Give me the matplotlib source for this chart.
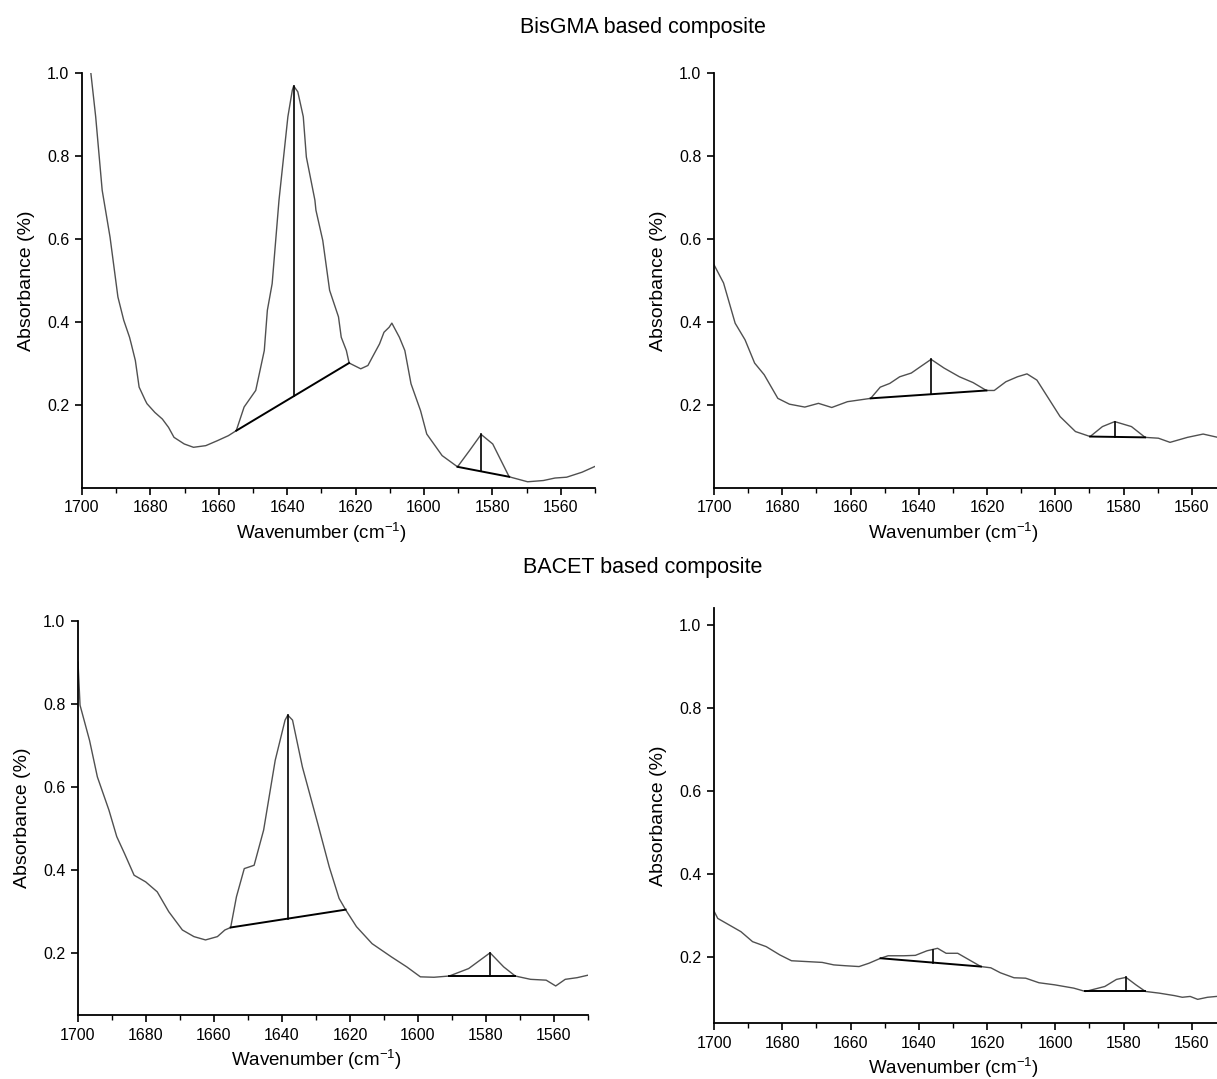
import numpy as np
import matplotlib
matplotlib.use("Agg")
import matplotlib.pyplot as plt
from matplotlib.ticker import MultipleLocator

plt.rcParams["font.family"] = ["Liberation Sans", "DejaVu Sans"]
plt.rcParams["mathtext.fontset"] = "custom"
plt.rcParams["mathtext.rm"] = "Liberation Sans"
plt.rcParams["mathtext.it"] = "Liberation Sans:italic"

# ---- BisGMA, before cure (top left) ----
wn_a = [1698.0, 1697.5, 1696.0, 1694.1, 1691.8, 1689.5, 1687.8, 1686.1, 1685.6, 1684.4,
        1683.3, 1681.5, 1681.0, 1678.7, 1676.5, 1674.7, 1673.1, 1670.1, 1667.4, 1663.8,
        1660.4, 1657.2, 1654.9, 1652.6, 1649.2, 1646.7, 1645.8, 1644.4, 1642.4, 1639.8,
        1638.5, 1638.1, 1636.9, 1635.3, 1634.4, 1631.9, 1631.6, 1629.6, 1627.6, 1625.0,
        1624.2, 1622.7, 1621.9, 1618.5, 1616.4, 1615.1, 1613.0, 1611.7, 1610.2, 1609.4,
        1607.2, 1605.6, 1603.8, 1601.0, 1599.2, 1594.7, 1590.2, 1586.7, 1583.3, 1579.9,
        1575.1, 1569.7, 1565.1, 1561.7, 1558.3, 1553.8, 1550.0]
ab_a = [1.030, 1.006, 0.894, 0.717, 0.604, 0.460, 0.404, 0.363, 0.347, 0.307,
        0.243, 0.211, 0.203, 0.182, 0.166, 0.146, 0.122, 0.106, 0.098, 0.102,
        0.114, 0.126, 0.138, 0.195, 0.235, 0.331, 0.428, 0.492, 0.693, 0.894,
        0.958, 0.968, 0.954, 0.894, 0.797, 0.693, 0.669, 0.596, 0.476, 0.412,
        0.363, 0.331, 0.301, 0.287, 0.295, 0.315, 0.347, 0.375, 0.387, 0.397,
        0.363, 0.331, 0.251, 0.186, 0.130, 0.078, 0.051, 0.090, 0.129, 0.106,
        0.027, 0.015, 0.018, 0.024, 0.026, 0.038, 0.052]
base_a = [(1654.9, 0.138, 1621.9, 0.301, 1638.1, 0.968),
          (1590.2, 0.051, 1575.1, 0.027, 1583.3, 0.129)]

# ---- BisGMA, after cure (top right) ----
wn_b = [1700.0, 1697.2, 1693.8, 1690.9, 1688.1, 1685.3, 1681.3, 1677.9, 1673.4, 1669.4,
        1665.5, 1660.9, 1657.5, 1654.1, 1651.3, 1648.5, 1645.6, 1642.2, 1639.4, 1636.4,
        1632.6, 1628.1, 1624.1, 1620.2, 1617.9, 1614.5, 1611.1, 1608.3, 1605.4, 1602.0,
        1598.6, 1594.1, 1589.8, 1586.2, 1582.6, 1577.7, 1573.7, 1569.8, 1566.4, 1561.3,
        1556.7, 1552.4, 1550.0]
ab_b = [0.538, 0.494, 0.397, 0.357, 0.301, 0.273, 0.216, 0.202, 0.195, 0.204,
        0.194, 0.208, 0.212, 0.216, 0.243, 0.252, 0.268, 0.277, 0.293, 0.310,
        0.289, 0.268, 0.254, 0.235, 0.235, 0.256, 0.268, 0.275, 0.260, 0.216,
        0.172, 0.136, 0.124, 0.148, 0.160, 0.148, 0.122, 0.120, 0.110, 0.122,
        0.130, 0.122, 0.118]
base_b = [(1654.1, 0.216, 1620.2, 0.235, 1636.4, 0.310),
          (1589.8, 0.124, 1573.7, 0.122, 1582.6, 0.160)]

# ---- BACET, before cure (bottom left) ----
wn_c = [1700.0, 1699.4, 1696.6, 1694.3, 1690.9, 1688.6, 1686.3, 1683.5, 1680.1, 1676.7,
        1673.3, 1669.3, 1665.9, 1662.5, 1659.0, 1656.8, 1655.1, 1653.4, 1651.1, 1648.2,
        1645.4, 1642.0, 1639.1, 1638.3, 1636.9, 1634.0, 1629.5, 1626.1, 1623.2, 1621.3,
        1618.1, 1613.5, 1607.8, 1603.3, 1599.3, 1595.3, 1590.8, 1585.1, 1578.8, 1574.8,
        1571.4, 1566.9, 1562.3, 1559.5, 1556.7, 1553.2, 1550.0]
ab_c = [0.901, 0.797, 0.712, 0.624, 0.544, 0.480, 0.439, 0.387, 0.371, 0.347,
        0.299, 0.255, 0.239, 0.231, 0.239, 0.255, 0.261, 0.335, 0.403, 0.411,
        0.496, 0.664, 0.761, 0.773, 0.761, 0.648, 0.512, 0.407, 0.331, 0.304,
        0.263, 0.222, 0.190, 0.166, 0.142, 0.141, 0.144, 0.162, 0.200, 0.166,
        0.144, 0.136, 0.134, 0.120, 0.136, 0.140, 0.146]
base_c = [(1655.1, 0.261, 1621.3, 0.304, 1638.3, 0.773),
          (1590.8, 0.144, 1571.4, 0.144, 1578.8, 0.200)]

# ---- BACET, after cure (bottom right) ----
wn_d = [1700.4, 1698.9, 1695.5, 1692.1, 1688.7, 1684.7, 1680.7, 1677.3, 1672.8, 1668.3,
        1664.9, 1661.5, 1657.5, 1654.6, 1651.2, 1649.0, 1644.4, 1641.0, 1637.6, 1634.5,
        1632.0, 1628.6, 1625.2, 1621.8, 1618.9, 1616.1, 1612.1, 1608.7, 1604.8, 1600.2,
        1594.6, 1591.2, 1585.5, 1582.1, 1579.3, 1576.4, 1573.6, 1569.6, 1565.1, 1562.8,
        1560.5, 1558.3, 1555.4, 1552.8, 1550.0]
ab_d = [0.316, 0.292, 0.276, 0.260, 0.236, 0.224, 0.204, 0.190, 0.188, 0.186,
        0.180, 0.178, 0.176, 0.184, 0.196, 0.202, 0.202, 0.203, 0.214, 0.220,
        0.208, 0.208, 0.192, 0.176, 0.173, 0.161, 0.149, 0.148, 0.137, 0.132,
        0.124, 0.116, 0.128, 0.145, 0.150, 0.132, 0.116, 0.112, 0.106, 0.102,
        0.104, 0.097, 0.102, 0.104, 0.104]
base_d = [(1651.2, 0.196, 1621.8, 0.176, 1635.9, 0.216),
          (1591.2, 0.116, 1573.6, 0.116, 1579.3, 0.150)]

W, H = 1217, 1079
panels = [
    # spectrum, baselines, (left, right, top_px, bottom_px), ylim
    (wn_a, ab_a, base_a, (82, 595, 72.7, 488), (0.0, 1.0)),
    (wn_b, ab_b, base_b, (714, 1226, 73, 488), (0.0, 1.0)),
    (wn_c, ab_c, base_c, (78, 588, 621, 1015), (0.05, 1.0)),
    (wn_d, ab_d, base_d, (714, 1226, 608, 1023), (0.04, 1.04)),
]

fig = plt.figure(figsize=(W / 100, H / 100), dpi=100)

for wn, ab, bases, (l, r, t, b), ylim in panels:
    ax = fig.add_axes([l / W, 1 - b / H, (r - l) / W, (b - t) / H])
    ax.plot(wn, ab, color="#505050", lw=1.0, solid_joinstyle="round")
    for x1, y1, x2, y2, xp, yp in bases:
        ax.plot([x1, x2], [y1, y2], color="black", lw=1.4)
        yb = y1 + (y2 - y1) * (xp - x1) / (x2 - x1)
        ax.plot([xp, xp], [yb, yp], color="black", lw=1.2)
    ax.set_xlim(1700, 1550)
    ax.set_ylim(*ylim)
    ax.xaxis.set_major_locator(MultipleLocator(20))
    ax.xaxis.set_minor_locator(MultipleLocator(10))
    ax.set_yticks([0.2, 0.4, 0.6, 0.8, 1.0])
    ax.set_yticklabels(["0.2", "0.4", "0.6", "0.8", "1.0"])
    for side in ("top", "right"):
        ax.spines[side].set_visible(False)
    for side in ("left", "bottom"):
        ax.spines[side].set_linewidth(1.3)
    ax.tick_params(which="major", direction="out", length=5, width=1.2,
                   labelsize=11.5, pad=4)
    ax.tick_params(which="minor", direction="out", length=3.5, width=1.0)
    ax.set_xlabel("Wavenumber (cm$^{-1}$)", fontsize=13.5, labelpad=4,
                  x=0.5 - 17 / (r - l))
    ax.set_ylabel("Absorbance (%)", fontsize=14, labelpad=9)
    ax.patch.set_alpha(0)

fig.text(643 / W, 1 - 27 / H, "BisGMA based composite", fontsize=15.5,
         ha="center", va="center")
fig.text(643 / W, 1 - 567 / H, "BACET based composite", fontsize=15.5,
         ha="center", va="center")

fig.savefig("out.png", dpi=100)
